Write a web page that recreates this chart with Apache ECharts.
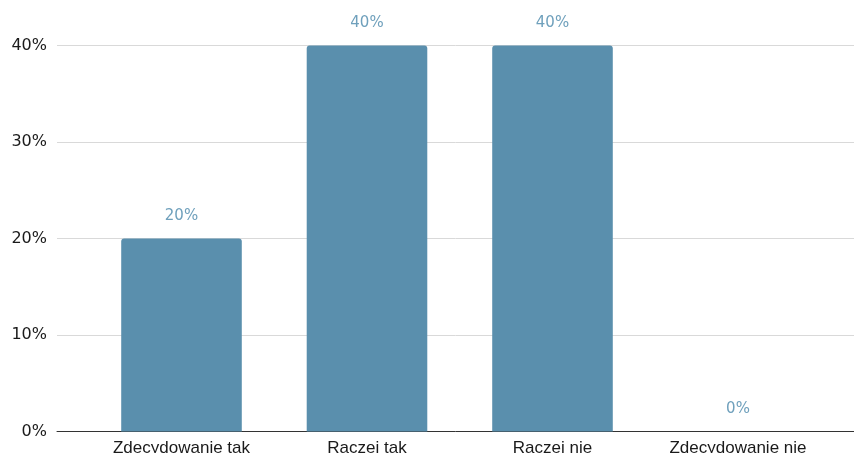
<!DOCTYPE html>
<html>
<head>
<meta charset="utf-8">
<script src="https://cdn.jsdelivr.net/npm/echarts@6/dist/echarts.min.js"></script>
<style>
html,body{margin:0;padding:0;background:#fff;}
#chart{width:854px;height:453px;}
</style>
</head>
<body>
<div id="chart"></div>
<script>
const categories = ["Zdecydowanie tak", "Raczej tak", "Raczej nie", "Zdecydowanie nie"];
const values = [20, 40, 40, 0];
const yTicks = [0, 10, 20, 30, 40];

const chart = echarts.init(document.getElementById('chart'), null, {renderer: 'canvas'});
const gridTop = 45.5, gridBottom = 21.5;
chart.setOption({
  animation: false,
  backgroundColor: '#ffffff',
  grid: [
    {left: 57, right: 0, top: gridTop, bottom: gridBottom, containLabel: false, outerBoundsMode: 'none'},
    {left: 88.75, right: 23.25, top: gridTop, bottom: gridBottom, containLabel: false, outerBoundsMode: 'none'}
  ],
  xAxis: [
    {
      gridIndex: 0, type: 'category', data: categories,
      axisLine: {show: true, lineStyle: {color: '#333333', width: 1}},
      axisTick: {show: false}, axisLabel: {show: false}, splitLine: {show: false}
    },
    {
      gridIndex: 1, type: 'category', data: categories,
      axisLine: {show: false}, axisTick: {show: false},
      axisLabel: {show: true, color: '#1a1a1a', fontFamily: 'Liberation Sans', fontSize: 17, margin: 8}
    }
  ],
  yAxis: [
    {
      gridIndex: 0, type: 'value', min: yTicks[0], max: yTicks[yTicks.length - 1], interval: 10,
      axisLine: {show: false}, axisTick: {show: false},
      axisLabel: {color: '#1a1a1a', fontFamily: 'DejaVu Sans', fontSize: 16, margin: 10, padding: [4, 0, 0, 0], formatter: '{value}%'},
      splitLine: {show: true, lineStyle: {color: '#d9d9d9', width: 1}}
    },
    {
      gridIndex: 1, type: 'value', min: yTicks[0], max: yTicks[yTicks.length - 1], interval: 10,
      show: false, splitLine: {show: false}
    }
  ],
  series: [{
    type: 'bar',
    xAxisIndex: 1, yAxisIndex: 1,
    data: values,
    barWidth: '65%',
    itemStyle: {color: '#5a8fad', borderRadius: [3, 3, 0, 0]},
    label: {
      show: true, position: 'top', distance: 15,
      color: '#6fa0bc', fontFamily: 'DejaVu Sans', fontSize: 15,
      formatter: '{c}%'
    }
  }]
});
</script>
</body>
</html>
